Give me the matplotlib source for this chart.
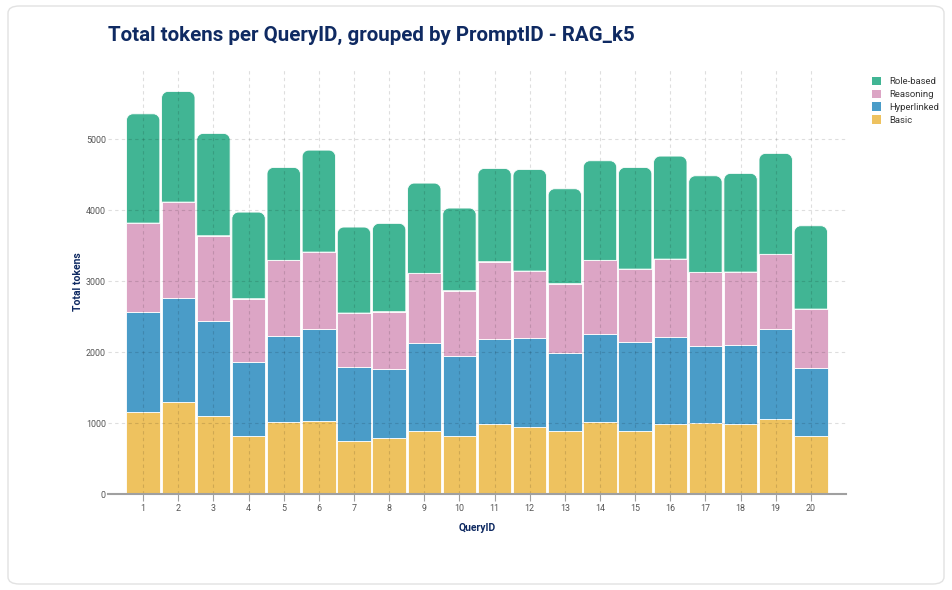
import matplotlib
matplotlib.use("Agg")
import matplotlib.pyplot as plt
from matplotlib.patches import FancyBboxPatch, Patch, PathPatch
from matplotlib.path import Path
import numpy as np

query_ids = list(range(1, 21))
basic = [1152, 1302, 1104, 818, 1015, 1029, 752, 790, 884, 813,
         987, 949, 884, 1015, 893, 987, 997, 987, 1062, 813]
hyperlinked = [1419, 1466, 1331, 1043, 1213, 1293, 1039, 973, 1245, 1133,
               1194, 1251, 1104, 1241, 1246, 1231, 1094, 1114, 1260, 964]
reasoning = [1250, 1349, 1207, 893, 1067, 1090, 761, 808, 983, 921,
             1095, 944, 978, 1039, 1033, 1095, 1035, 1029, 1058, 831]
role_based = [1541, 1561, 1444, 1222, 1311, 1438, 1213, 1246, 1273, 1166,
              1316, 1434, 1339, 1405, 1434, 1453, 1362, 1392, 1424, 1175]

series_names = ["Basic", "Hyperlinked", "Reasoning", "Role-based"]
colors = {"Basic": "#EEC25F", "Hyperlinked": "#4A9CC8",
          "Reasoning": "#DCA5C5", "Role-based": "#41B594"}

plt.rcParams['font.family'] = ['Roboto', 'DejaVu Sans']
W, H = 953, 590
fig = plt.figure(figsize=(W / 100, H / 100), dpi=100)
fig.patch.set_facecolor("white")

# card background
card = FancyBboxPatch((8 / W, 6 / H), (944 - 8) / W, (584 - 6) / H,
                      boxstyle="round,pad=0,rounding_size=0.012",
                      transform=fig.transFigure, facecolor="white",
                      edgecolor="#e2e2e2", linewidth=1.0, zorder=-10)
fig.patches.append(card)

left, right, top, bottom = 108, 846, 70, 494
ax = fig.add_axes([left / W, (H - bottom) / H, (right - left) / W, (bottom - top) / H])
ax.set_facecolor("none")
ax.set_zorder(1)

x = np.array(query_ids, dtype=float)
bw = 0.95
ymax = 5980
ax.set_xlim(0, 21)
ax.set_ylim(0, ymax)

bottoms = np.zeros(len(x))
for name, vals in zip(series_names[:3], [basic, hyperlinked, reasoning]):
    ax.bar(x, vals, width=bw, bottom=bottoms, color=colors[name],
           edgecolor="white", linewidth=0.6, zorder=2)
    bottoms = bottoms + np.array(vals)

# top segment with rounded upper corners (single path per bar)
px_per_x = (right - left) / 21.0
px_per_y = (bottom - top) / ymax
r_px = 6.5
rx = r_px / px_per_x
ry = r_px / px_per_y
k = 0.5523
for xi, b, v in zip(x, bottoms, role_based):
    x0, x1, t = xi - bw / 2, xi + bw / 2, b + v
    verts = [(x0, b), (x0, t - ry),
             (x0, t - ry + k * ry), (x0 + rx - k * rx, t), (x0 + rx, t),
             (x1 - rx, t),
             (x1 - rx + k * rx, t), (x1, t - ry + k * ry), (x1, t - ry),
             (x1, b), (x0, b)]
    codes = [Path.MOVETO, Path.LINETO,
             Path.CURVE4, Path.CURVE4, Path.CURVE4,
             Path.LINETO,
             Path.CURVE4, Path.CURVE4, Path.CURVE4,
             Path.LINETO, Path.CLOSEPOLY]
    ax.add_patch(PathPatch(Path(verts, codes), facecolor=colors["Role-based"],
                           edgecolor="white", linewidth=0.6, zorder=2))

# grid
ax.set_yticks([0, 1000, 2000, 3000, 4000, 5000])
ax.set_xticks(x)
ax.set_xticklabels([str(q) for q in query_ids])
ax.grid(True, color="black", alpha=0.13, linestyle=(0, (3, 3)), linewidth=0.8, zorder=3)
ax.set_axisbelow(False)
for gl in ax.get_xgridlines() + ax.get_ygridlines():
    gl.set_zorder(3)

for s in ["top", "right", "left"]:
    ax.spines[s].set_visible(False)
ax.spines["bottom"].set_color("#a0a0a0")
ax.spines["bottom"].set_linewidth(1.5)
ax.spines["bottom"].set_zorder(4)

ax.tick_params(axis="x", length=5, width=0.8, color="#a0a0a0", labelsize=6.4,
               labelcolor="#555555", pad=2.5)
ax.tick_params(axis="y", length=0, labelsize=6.4, labelcolor="#555555", pad=1.5)

navy = "#0F2A62"
ax.set_xlabel("QueryID", fontsize=7.5, fontweight="bold", color=navy, labelpad=7)
ax.set_ylabel("Total tokens", fontsize=7.5, fontweight="bold", color=navy, labelpad=2)

fig.text(108 / W, 1 - 35 / H, "Total tokens per QueryID, grouped by PromptID - RAG_k5",
         fontsize=14.8, fontweight="bold", color=navy, va="center", ha="left")

handles = [Patch(facecolor=colors[n], edgecolor="none") for n in series_names[::-1]]
leg = fig.legend(handles, series_names[::-1], loc="upper left",
                 bbox_to_anchor=(868 / W, 1 - 73 / H), frameon=False,
                 fontsize=6.8, handlelength=1.0, handleheight=1.0,
                 handletextpad=0.8, labelspacing=0.35, borderaxespad=0)
for t in leg.get_texts():
    t.set_color("#333333")

fig.savefig("out.png", dpi=100, facecolor="white")
